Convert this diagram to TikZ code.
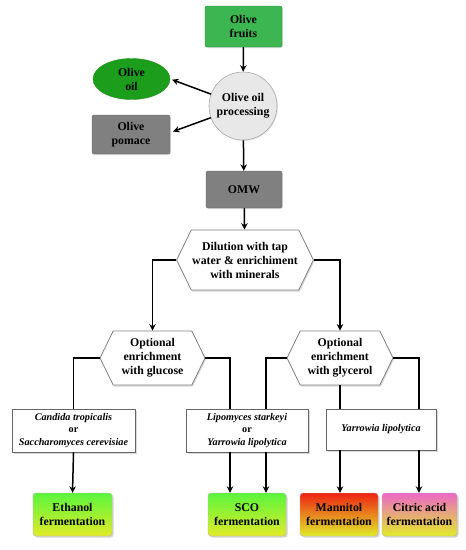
\documentclass[tikz,border=0pt]{standalone}
\usepackage{fontspec}
\setmainfont{Liberation Serif}
\usetikzlibrary{shapes.geometric,shapes.symbols,arrows.meta,shadows,calc}
\definecolor{fruitgreen}{RGB}{60,182,80}
\definecolor{oilgreen}{RGB}{28,158,28}
\definecolor{boxgray}{RGB}{128,128,128}
\definecolor{circgray}{RGB}{232,232,232}
\definecolor{fgreen}{RGB}{90,245,60}
\definecolor{fyellow}{RGB}{225,235,40}
\definecolor{fred}{RGB}{238,34,20}
\definecolor{fpink}{RGB}{236,104,200}
\begin{document}
\begin{tikzpicture}[x=1pt,y=-1pt,
  font=\fontsize{11.8}{14}\selectfont\bfseries,
  base/.style={align=center,inner sep=1pt},
  topbox/.style={base,rectangle,rounded corners=2pt,draw=#1!80!black,fill=#1,drop shadow={opacity=0.25,shadow xshift=1pt,shadow yshift=-1pt}},
  hexa/.style={base,signal,signal to=east and west,signal pointer angle=128,draw=gray,fill=white,line width=0.8pt,drop shadow={opacity=0.3,shadow xshift=1pt,shadow yshift=-1.5pt}},
  orgbox/.style={base,rectangle,draw=gray!80!black,fill=white,line width=0.9pt,font=\fontsize{10.2}{12.5}\selectfont\bfseries,drop shadow={opacity=0.3,shadow xshift=1.5pt,shadow yshift=-1.5pt}},
  fermbox/.style={base,rectangle,rounded corners=3pt,draw=gray!60,top color=#1,bottom color=fyellow,drop shadow={opacity=0.35,shadow xshift=1.5pt,shadow yshift=-1.5pt}},
  arr/.style={-{Stealth[length=6.5pt,width=6.5pt]},line width=1.5pt},
  ln/.style={line width=1.5pt}]
\useasboundingbox (0,0) rectangle (466,550);
% top part
\node[topbox=fruitgreen,minimum width=77pt,minimum height=41pt] (fruits) at (243.5,26.5) {Olive\\fruits};
\node[base,circle,draw=gray!70,fill=circgray,line width=0.6pt,minimum size=68pt,inner sep=0pt,drop shadow={opacity=0.2,shadow xshift=1pt,shadow yshift=-1pt}] (proc) at (243,106) {Olive oil\\processing};
\node[base,ellipse,fill=oilgreen,draw=oilgreen!90!black,minimum width=77pt,minimum height=41pt] (oil) at (131.5,79) {Olive\\oil};
\node[topbox=boxgray,minimum width=78pt,minimum height=39pt] (pomace) at (131,134.5) {Olive\\pomace};
\node[topbox=boxgray,minimum width=76pt,minimum height=37pt] (omw) at (244,189.5) {OMW};
\draw[arr] (fruits) -- (proc);
\draw[arr,shorten >=2pt] (proc) -- (oil.east);
\draw[arr,shorten >=3pt] (proc) -- ([yshift=2pt]pomace.east);
\draw[arr] (proc) -- (omw);
% hexagons
\node[hexa,minimum width=120pt,minimum height=60pt] (dil) at (245,260) {Dilution with tap\\water \& enrichiment\\with minerals};
\draw[arr] (omw) -- (dil);
\node[hexa,minimum width=105pt,minimum height=54pt] (gluc) at (152.5,358) {Optional\\enrichment\\with glucose};
\node[hexa,minimum width=106pt,minimum height=54pt] (glyc) at (340,358) {Optional\\enrichment\\with glycerol};
\draw[arr] (dil.west) -| (gluc.north);
\draw[arr] (dil.east) -| (glyc.north);
% organism boxes
\node[orgbox,minimum width=123pt,minimum height=43pt] (cand) at (73.5,430.5) {\itshape Candida tropicalis\\or\\\itshape Saccharomyces cerevisiae};
\node[orgbox,minimum width=122pt,minimum height=43pt] (lipo) at (247,430.5) {\itshape Lipomyces starkeyi\\or\\\itshape Yarrowia lipolytica};
\node[orgbox,minimum width=110pt,minimum height=41pt] (yarr) at (381,429.5) {\itshape Yarrowia lipolytica};
\coordinate (xa) at (230,0);
\coordinate (xb) at (266,0);
\coordinate (xc) at (340,0);
\coordinate (xd) at (419,0);
\draw[ln] (gluc.west) -| (cand.north);
\draw[ln] (gluc.east) -| (lipo.north -| xa);
\draw[ln] (glyc.west) -| (lipo.north -| xb);
\draw[ln] (glyc.south) -- (yarr.north -| glyc.south);
\draw[ln] (glyc.east) -| (yarr.north -| xd);
% fermentation boxes
\node[fermbox=fgreen,minimum width=79pt,minimum height=43pt] (eth) at (72.5,514.5) {Ethanol\\fermentation};
\node[fermbox=fgreen,minimum width=78pt,minimum height=43pt] (sco) at (247,514.5) {SCO\\fermentation};
\node[fermbox=fred,minimum width=78pt,minimum height=43pt] (mann) at (339,514.5) {Mannitol\\fermentation};
\node[fermbox=fpink,minimum width=75pt,minimum height=43pt] (citr) at (419.5,514.5) {Citric acid\\fermentation};
\draw[arr] (cand.south) -- (eth.north);
\draw[arr] (lipo.south -| xa) -- (sco.north -| xa);
\draw[arr] (lipo.south -| xb) -- (sco.north -| xb);
\draw[arr] (yarr.south -| xc) -- (mann.north -| xc);
\draw[arr] (yarr.south -| xd) -- (citr.north -| xd);
\end{tikzpicture}
\end{document}
